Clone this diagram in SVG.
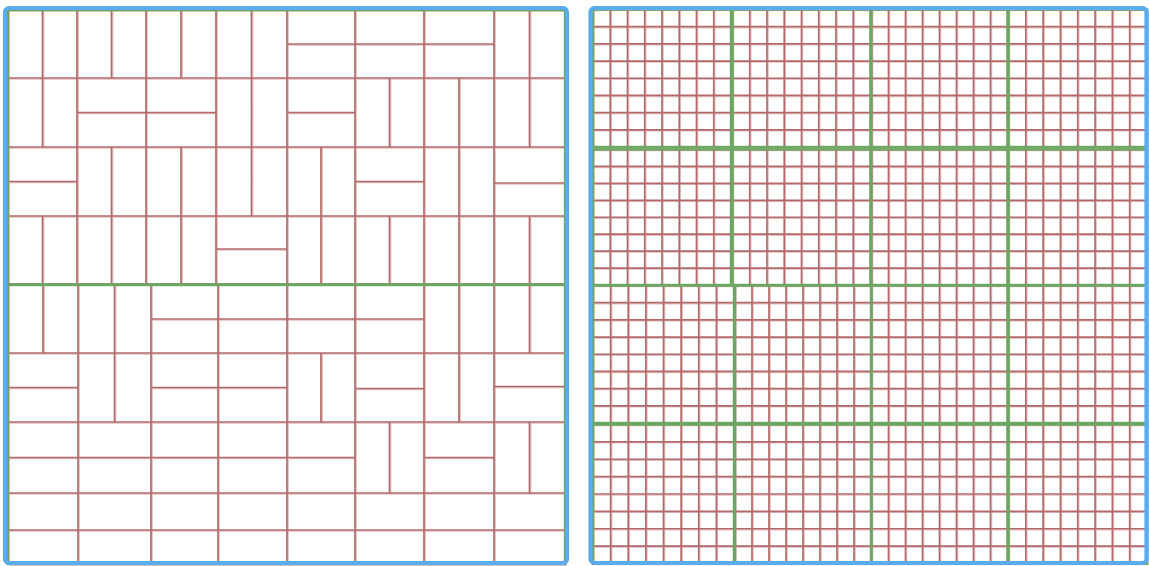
<svg xmlns="http://www.w3.org/2000/svg" xmlns:xlink="http://www.w3.org/1999/xlink" width="1149" height="566" viewBox="0 0 1149 566">
<style>
.red{fill:none;stroke:#b46a6a;stroke-width:1.7}
.echo{fill:none;stroke:#e4c0c0;stroke-width:1.2}
.grn{fill:none;stroke:#6aa862;stroke-width:2.4}
.blu{fill:none;stroke:#5aacef;stroke-width:4.2}
</style>
<defs>
<path id="g8" vector-effect="non-scaling-stroke" d="M0 0H8V8H0Z M1 0V8 M2 0V8 M3 0V8 M4 0V8 M5 0V8 M6 0V8 M7 0V8 M0 1H8 M0 2H8 M0 3H8 M0 4H8 M0 5H8 M0 6H8 M0 7H8"/>
<path id="lgrid" d="M8 10H565 M8 78H565 M8 147H565 M8 216H565 M8 284H565
M8 10V284 M77 10V284 M146 10V284 M216 10V284 M287 10V284 M355 10V284 M424 10V284 M494 10V284 M565 10V284
M42.5 10V78 M111.5 10V78 M181 10V78 M251.5 10V78 M529.5 10V78 M287 44H494
M42.5 78V147 M251.5 78V147 M389.5 78V147 M459 78V147 M529.5 78V147 M77 112.5H216 M287 112.5H355
M111.5 147V216 M181 147V216 M251.5 147V216 M321 147V216 M459 147V216 M8 181.5H77 M355 181.5H424 M494 183H565
M42.5 216V284 M111.5 216V284 M181 216V284 M321 216V284 M389.5 216V284 M459 216V284 M529.5 216V284 M216 249H287
M8 353H565 M8 422H565 M8 493H565 M8 564H565
M8 284V564 M78 284V564 M151 284V564 M218 284V564 M287 284V564 M355 284V564 M424 284V564 M494 284V564 M565 284V564
M43 284V353 M114.5 284V353 M459 284V353 M529.5 284V353 M151 319H424
M114.5 353V422 M321 353V422 M459 353V422 M8 387.5H78 M151 387.5H287 M355 388.5H424 M494 386.5H565
M389.5 422V493 M529.5 422V493 M8 457.5H355 M424 457.5H494
M8 530H565"/>
<g id="rgrid">
<use xlink:href="#g8" href="#g8" transform="translate(593,9.5) scale(17.25,17.1875)"/>
<use xlink:href="#g8" href="#g8" transform="translate(732.5,9.5) scale(17.25,17.1875)"/>
<use xlink:href="#g8" href="#g8" transform="translate(871.5,9.5) scale(17,17.1875)"/>
<use xlink:href="#g8" href="#g8" transform="translate(1008.5,9.5) scale(17.3125,17.1875)"/>
<use xlink:href="#g8" href="#g8" transform="translate(593,149.5) scale(17.25,16.9375)"/>
<use xlink:href="#g8" href="#g8" transform="translate(732.5,149.5) scale(17.25,16.9375)"/>
<use xlink:href="#g8" href="#g8" transform="translate(871.5,149.5) scale(17,16.9375)"/>
<use xlink:href="#g8" href="#g8" transform="translate(1008.5,149.5) scale(17.3125,16.9375)"/>
<use xlink:href="#g8" href="#g8" transform="translate(593,285.5) scale(17.625,17.1875)"/>
<use xlink:href="#g8" href="#g8" transform="translate(735,285.5) scale(17,17.1875)"/>
<use xlink:href="#g8" href="#g8" transform="translate(871.5,285.5) scale(17,17.1875)"/>
<use xlink:href="#g8" href="#g8" transform="translate(1008.5,285.5) scale(17.3125,17.1875)"/>
<use xlink:href="#g8" href="#g8" transform="translate(593,424.5) scale(17.625,17.375)"/>
<use xlink:href="#g8" href="#g8" transform="translate(735,424.5) scale(17,17.375)"/>
<use xlink:href="#g8" href="#g8" transform="translate(871.5,424.5) scale(17,17.375)"/>
<use xlink:href="#g8" href="#g8" transform="translate(1008.5,424.5) scale(17.3125,17.375)"/>
</g>
</defs>
<rect width="1149" height="566" fill="#ffffff"/>
<g id="left-panel">
<g class="echo"><use xlink:href="#lgrid" href="#lgrid" transform="translate(1.3,1.1)"/></g>
<g class="red"><use xlink:href="#lgrid" href="#lgrid"/></g>
<rect class="grn" x="8" y="10" width="557" height="274.5"/>
<rect class="grn" x="8" y="285" width="557" height="279"/>
<rect class="blu" x="5" y="8" width="562" height="555" rx="4"/>
</g>
<g id="right-panel">
<g class="echo"><use xlink:href="#rgrid" href="#rgrid" transform="translate(1.2,1.1)"/></g>
<g class="red"><use xlink:href="#rgrid" href="#rgrid"/></g>
<rect class="grn" x="593" y="9.5" width="138" height="137.5"/>
<rect class="grn" x="732.5" y="9.5" width="138" height="137.5"/>
<rect class="grn" x="871.5" y="9.5" width="136" height="137.5"/>
<rect class="grn" x="1008.5" y="9.5" width="138.5" height="137.5"/>
<rect class="grn" x="593" y="149.5" width="138" height="135.5"/>
<rect class="grn" x="732.5" y="149.5" width="138" height="135.5"/>
<rect class="grn" x="871.5" y="149.5" width="136" height="135.5"/>
<rect class="grn" x="1008.5" y="149.5" width="138.5" height="135.5"/>
<rect class="grn" x="593" y="285.5" width="141" height="137.5"/>
<rect class="grn" x="735" y="285.5" width="136" height="137.5"/>
<rect class="grn" x="871.5" y="285.5" width="136" height="137.5"/>
<rect class="grn" x="1008.5" y="285.5" width="138.5" height="137.5"/>
<rect class="grn" x="593" y="424.5" width="141" height="139"/>
<rect class="grn" x="735" y="424.5" width="136" height="139"/>
<rect class="grn" x="871.5" y="424.5" width="136" height="139"/>
<rect class="grn" x="1008.5" y="424.5" width="138.5" height="139"/>
<rect class="blu" x="590.5" y="8" width="556" height="555" rx="4"/>
</g>
</svg>
